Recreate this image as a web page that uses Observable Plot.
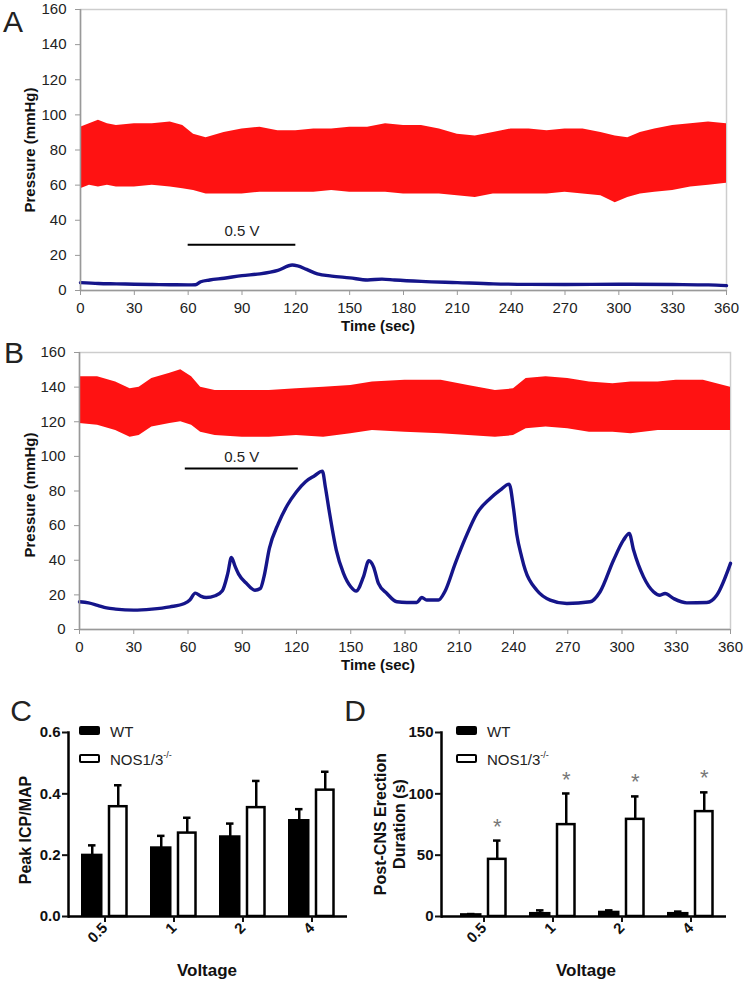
<!DOCTYPE html>
<html><head><meta charset="utf-8">
<script src="https://cdn.jsdelivr.net/npm/d3@7"></script>
<script src="https://cdn.jsdelivr.net/npm/@observablehq/plot@0.6"></script>
<style>
body{margin:0;background:#fff;font-family:"Liberation Sans",Arial,sans-serif;}
#fig{position:relative;width:746px;height:990px;overflow:hidden;background:#fff}
#fig svg{position:absolute;overflow:visible}
.lab{position:absolute;white-space:nowrap;transform:translate(-50%,-50%);color:#111;line-height:1}
.rot{transform:translate(-50%,-50%) rotate(-90deg)}
.sw{position:absolute;width:21px;height:9px;box-sizing:border-box;border:2px solid #000;border-radius:2px}
</style></head><body><div id="fig"></div><script>
// ---------- data ----------
const timeTicks = [0,30,60,90,120,150,180,210,240,270,300,330,360];
const pressureTicks = [0,20,40,60,80,100,120,140,160];

// Panel A: arterial pressure band (envelope of the red points) and ICP trace
const redA_t  = [0,5,10,15,20,30,40,50,57,63,70,80,90,100,110,120,130,140,150,160,170,180,190,200,210,220,230,240,250,260,270,280,290,298,305,312,320,330,340,350,360];
const redA_lo = [58,60,59,60,59,59,60,59,58,57,55,55,55,56,56,56,56,57,56,56,56,55,55,55,54,53,55,55,55,55,56,55,54,50,53,55,56,57,59,60,61];
const redA_hi = [93,95,97,95,94,95,95,96,94,89,87,90,92,93,91,91,92,92,93,93,95,94,94,92,89,88,90,92,92,91,92,92,90,88,87,90,92,94,95,96,95];
const blueA_t = [0,10,20,30,40,50,60,64,67,72,80,90,100,110,118,121,126,132,140,150,160,168,175,190,210,230,250,270,300,330,350,360];
const blueA_v = [4.5,4,3.8,3.6,3.4,3.3,3.2,3.3,5,6,7,8.5,9.5,11.5,14.5,14,12,9.5,8.2,7.2,6,6.5,6,5.2,4.5,3.8,3.5,3.4,3.6,3.4,3.2,2.8];
const stimA = {start: 60, end: 120, level: 26, label: "0.5 V"};

// Panel B
const redB_t  = [0,10,20,28,33,40,50,56,62,67,75,90,105,120,135,150,162,180,200,215,230,240,247,258,270,282,295,305,320,330,345,360];
const redB_lo = [119,118,115,111,112,117,119,120,118,114,112,111,111,112,111,113,115,114,113,112,111,112,116,117,116,114,114,113,115,115,115,115];
const redB_hi = [146,146,143,139,140,145,148,150,146,140,138,138,138,139,140,141,143,144,144,141,138,139,145,146,145,143,142,143,143,144,144,140];
const blueB_t = [0,5,10,15,20,30,40,50,58,61,64,67,70,75,79,82,84,86,88,92,97,100,102,105,110,115,120,125,130,134.3,136,138,142,146,150,153,157,160,162.6,165.3,170,175.5,181,186.5,189.3,192,198.5,202,207.8,213.3,219.7,227.1,232.6,237.6,240,241.8,244.5,246.5,252.9,260.3,269.5,282.4,287.9,295.3,300.8,304,306.4,311.9,317.4,321,323.8,328.5,335.8,346.9,352.4,360];
const blueB_v = [16,15.4,14,12.5,11.8,11.2,11.8,13.1,15,17,21,19.3,18.5,19.5,22.4,32.4,41.6,36.6,32,27,22.7,23.7,30.4,46.8,61.3,71.9,79.6,85.4,88.8,91.5,82,69,45.9,32.4,24.7,22.2,30.4,39.7,36.2,26.6,20.8,16,15.6,15.6,18.5,17,17,21.8,38.2,52.6,67,75.7,80.5,84,70,55,42,34.3,22.7,17,15,16,21.8,40,51.6,55.5,45.9,30.4,21.8,19.8,20.8,17.9,15.4,15.6,19.8,38.2];
const stimB = {start: 58.5, end: 121, level: 93, label: "0.5 V"};

// Panels C and D
const voltages = ["0.5","1","2","4"];
const groups = ["WT","NOS1/3-/-"];
const icpTicks = [0,0.2,0.4,0.6];
const icpWT_mean  = [0.200,0.224,0.260,0.313];
const icpWT_sem   = [0.032,0.039,0.043,0.037];
const icpKO_mean  = [0.358,0.272,0.355,0.412];
const icpKO_sem   = [0.070,0.050,0.087,0.060];
const durTicks = [0,50,100,150];
const durWT_mean = [1.5,2.5,3.5,2.5];
const durWT_sem  = [0.5,2.5,1.5,1.5];
const durKO_mean = [46.6,74.9,79.2,85.5];
const durKO_sem  = [15.3,25.4,18.7,15.7];
const durStars   = ["*","*","*","*"];

// ---------- drawing ----------
const fig = document.getElementById("fig");
const FONT = '"Liberation Sans", Arial, sans-serif';

function tracePlot(redT, redLo, redHi, blueT, blueV, stim, o) {
  const red = redT.map((t,i) => ({t, lo: redLo[i], hi: redHi[i]}));
  const blue = blueT.map((t,i) => ({t, v: blueV[i]}));
  const svg = Plot.plot({
    width: 746, height: o.h,
    marginLeft: o.ml, marginRight: o.mr, marginTop: o.mt, marginBottom: o.mb,
    style: {fontFamily: FONT, fontSize: "15px", background: "transparent", color: "#222"},
    x: {domain: [0, 360]},
    y: {domain: [0, 160]},
    marks: [
      Plot.frame({stroke: "#cdcdcd", strokeWidth: 1.5}),
      Plot.areaY(red, {x: "t", y1: "lo", y2: "hi", fill: "#ff1212"}),
      Plot.line(blue, {x: "t", y: "v", stroke: "#15158a", strokeWidth: 3.4, curve: "monotone-x"}),
      Plot.ruleY([stim], {x1: "start", x2: "end", y: "level", stroke: "#000", strokeWidth: 2}),
      Plot.text([stim], {x: d => (d.start + d.end) / 2, y: "level", text: "label", dy: o.stimDy, fontSize: 15, fill: "#222"}),
      Plot.ruleX([0], {stroke: "#999", strokeWidth: 1.5}),
      Plot.ruleY([0], {stroke: "#999", strokeWidth: 1.5}),
      Plot.axisX({ticks: timeTicks, tickSize: 5, tickPadding: 7, stroke: "#999", fill: "#222", label: null}),
      Plot.axisY({ticks: pressureTicks, tickSize: 5, tickPadding: 9, stroke: "#999", fill: "#222", label: null})
    ]
  });
  svg.style.left = o.left + "px"; svg.style.top = o.top + "px";
  fig.appendChild(svg);
}

function barPlot(wtM, wtS, koM, koS, ticks, fmt, stars, o) {
  const wt = voltages.map((v,i) => ({v, mean: wtM[i], top: wtM[i] + wtS[i]}));
  const ko = voltages.map((v,i) => ({v, mean: koM[i], top: koM[i] + koS[i], star: stars ? stars[i] : ""}));
  const marks = [
    Plot.ruleX(wt, {x: "v", y1: "mean", y2: "top", dx: -12.75, stroke: "#000", strokeWidth: 2.5}),
    Plot.tickY(wt, {x: "v", y: "top", insetLeft: 18, insetRight: 43.5, stroke: "#000", strokeWidth: 2.5}),
    Plot.ruleX(ko, {x: "v", y1: "mean", y2: "top", dx: 13.25, stroke: "#000", strokeWidth: 2.5}),
    Plot.tickY(ko, {x: "v", y: "top", insetLeft: 44, insetRight: 17.5, stroke: "#000", strokeWidth: 2.5}),
    Plot.barY(wt, {x: "v", y: "mean", insetLeft: 12, insetRight: 37.5, fill: "#000", stroke: "#000", strokeWidth: 2}),
    Plot.barY(ko, {x: "v", y: "mean", insetLeft: 39, insetRight: 12.5, fill: "#fff", stroke: "#000", strokeWidth: 2.5}),
    Plot.ruleY([0], {stroke: "#000", strokeWidth: 2.5}),
    Plot.frame({anchor: "left", stroke: "#000", strokeWidth: 2.5}),
    Plot.axisY({ticks, tickFormat: fmt, tickSize: 6, tickPadding: 2, strokeWidth: 2, fill: "#111", label: null}),
    Plot.axisX({tickRotate: -45, tickSize: 6, tickPadding: 3, strokeWidth: 2, fill: "#111", label: null})
  ];
  if (stars) marks.push(Plot.text(ko, {x: "v", y: "top", text: "star", dx: 13.25, dy: -14, fontSize: 22, fill: "#777", fontWeight: "normal"}));
  const svg = Plot.plot({
    width: 373, height: 290,
    marginLeft: o.ml, marginRight: o.mr, marginTop: o.mt, marginBottom: o.mb,
    style: {fontFamily: FONT, fontSize: "15px", fontWeight: "bold", background: "transparent", color: "#111"},
    x: {domain: voltages, padding: 0, insetLeft: o.inset || 0},
    y: {domain: [ticks[0], ticks[ticks.length - 1]]},
    marks
  });
  svg.style.left = o.left + "px"; svg.style.top = o.top + "px";
  fig.appendChild(svg);
}

tracePlot(redA_t, redA_lo, redA_hi, blueA_t, blueA_v, stimA,
  {left: 0, top: 0, h: 320, ml: 80, mr: 20, mt: 9, mb: 30, stimDy: -14});
tracePlot(redB_t, redB_lo, redB_hi, blueB_t, blueB_v, stimB,
  {left: 0, top: 340, h: 330, ml: 79, mr: 16, mt: 12, mb: 41, stimDy: -11});
barPlot(icpWT_mean, icpWT_sem, icpKO_mean, icpKO_sem, icpTicks, d3.format(".1f"), null,
  {left: 0, top: 700, ml: 68, mr: 26, mt: 32, mb: 74});
barPlot(durWT_mean, durWT_sem, durKO_mean, durKO_sem, durTicks, d3.format("d"), durStars,
  {left: 373, top: 700, ml: 68, mr: 20, mt: 32, mb: 74, inset: 7});

// ---------- text ----------
function label(html, x, y, css = {}, rot = false) {
  const d = document.createElement("div");
  d.className = "lab" + (rot ? " rot" : "");
  d.innerHTML = html;
  d.style.left = x + "px"; d.style.top = y + "px";
  Object.assign(d.style, css);
  fig.appendChild(d);
  return d;
}
const bold15 = {fontWeight: "bold", fontSize: "15px"};
const bold16 = {fontWeight: "bold", fontSize: "16px"};
const letter = {fontSize: "30px", color: "#222"};
label("A", 13, 22, letter);
label("B", 14, 353, letter);
label("C", 21, 711, letter);
label("D", 355, 711, letter);
label("Time (sec)", 378, 325, bold15);
label("Time (sec)", 378, 664, bold15);
label("Pressure (mmHg)", 29, 150, bold15, true);
label("Pressure (mmHg)", 29, 495, bold15, true);
label("Peak ICP/MAP", 26, 830, bold16, true);
label("Post-CNS Erection", 381, 824, bold16, true);
label("Duration (s)", 400, 824, bold16, true);
label("Voltage", 207, 970, {fontWeight: "bold", fontSize: "17px"});
label("Voltage", 586, 970, {fontWeight: "bold", fontSize: "17px"});

// legends
function legend(x) {
  const a = document.createElement("div"); a.className = "sw";
  a.style.left = x + "px"; a.style.top = "726px"; a.style.background = "#000"; fig.appendChild(a);
  const b = document.createElement("div"); b.className = "sw";
  b.style.left = x + "px"; b.style.top = "754px"; b.style.background = "#fff"; fig.appendChild(b);
  const t1 = label(groups[0], 0, 731, {fontSize: "15px", color: "#222"});
  t1.style.left = (x + 31) + "px"; t1.style.transform = "translate(0,-50%)";
  const t2 = label('NOS1/3<sup style="font-size:9px;vertical-align:7px">-/-</sup>', 0, 759, {fontSize: "15px", color: "#222"});
  t2.style.left = (x + 31) + "px"; t2.style.transform = "translate(0,-50%)";
}
legend(79);
legend(456);
</script></body></html>
